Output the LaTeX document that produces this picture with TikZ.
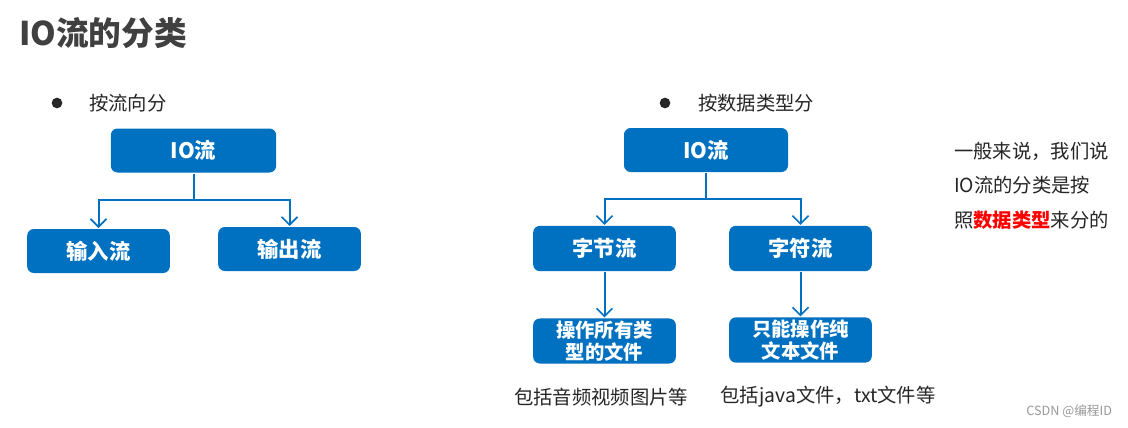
\documentclass[tikz,border=0pt]{standalone}
\usepackage{fontspec}
\setmainfont{Noto Sans CJK SC}
\usepackage{tikz}
\usetikzlibrary{arrows.meta}
\definecolor{boxblue}{HTML}{0070C0}
\definecolor{titlegray}{HTML}{404040}
\definecolor{textgray}{HTML}{262626}
\tikzstyle{tree}=[line width=1.5pt,draw=boxblue]
\tikzstyle{branch}=[-{Straight Barb[length=6pt,width=12pt,line width=1.2pt]}]
\tikzstyle{kind}=[rectangle,rounded corners=5pt,fill=boxblue,text=white,font=\fontsize{16}{18}\selectfont\bfseries,minimum width=107pt,minimum height=33pt,inner sep=2pt]
\tikzstyle{leaf}=[kind,font=\fontsize{14.5}{16}\selectfont\bfseries,align=center]
\tikzstyle{dot}=[circle,fill=textgray,inner sep=0pt,minimum size=8pt]
\tikzstyle{plain}=[text=textgray,font=\fontsize{14.5}{26}\selectfont,inner sep=0pt]

\begin{document}
\begin{tikzpicture}[x=0.75pt,y=-0.75pt,tree]
				\useasboundingbox[fill=white] (0,0) rectangle (1128,428);

				%The title
				\draw (18,33) node[anchor=west,inner sep=0pt,text=titlegray,font=\fontsize{24.5}{28}\selectfont\bfseries] (title) {IO流的分类};

				%The first split: by direction
				\draw (57,103) node[dot] (dot1) {};
				\draw (88,103) node[plain,anchor=west] (by1) {按流向分};
				\draw (193.5,150.5) node[kind,minimum width=124pt] (io1) {IO流};
				\draw (98.5,251) node[kind] (in) {输入流};
				\draw (289.5,249) node[kind] (out) {输出流};
				\coordinate (split1) at (193.5,200);
				\draw (io1.south) -- (split1);
				\draw[branch] (split1) -| (in.north);
				\draw[branch] (split1) -| (out.north);

				%The second split: by data type
				\draw (665,103) node[dot] (dot2) {};
				\draw (697,103) node[plain,anchor=west] (by2) {按数据类型分};
				\draw (706,150) node[kind,minimum width=123pt] (io2) {IO流};
				\draw (604.5,248.5) node[kind,minimum height=34pt] (byte) {字节流};
				\draw (800.5,248.5) node[kind,minimum height=34pt] (char) {字符流};
				\coordinate (split2) at (706,199);
				\draw (io2.south) -- (split2);
				\draw[branch] (split2) -| (byte.north);
				\draw[branch] (split2) -| (char.north);

				%The leaves
				\draw (604.5,341) node[leaf] (anyfile) {操作所有类\\型的文件};
				\draw (800.5,340) node[leaf] (textfile) {只能操作纯\\文本文件};
				\draw[branch] (byte) -- (anyfile);
				\draw[branch] (char) -- (textfile);
				\draw (601,397) node[plain] (media) {包括音频视频图片等};
				\draw (828,397) node[plain] (txt) {包括java文件，txt文件等};

				%The note on the right
				\draw (953,141) node[plain,anchor=north west,align=left] (note) {一般来说，我们说\\IO流的分类是按\\照{\bfseries\color{red}数据类型}来分的};

				%The watermark
				\draw (1113,411) node[anchor=east,inner sep=0pt,text=black!40,font=\fontsize{9.5}{10}\selectfont] (mark) {CSDN @编程ID};
			\end{tikzpicture}
\end{document}
